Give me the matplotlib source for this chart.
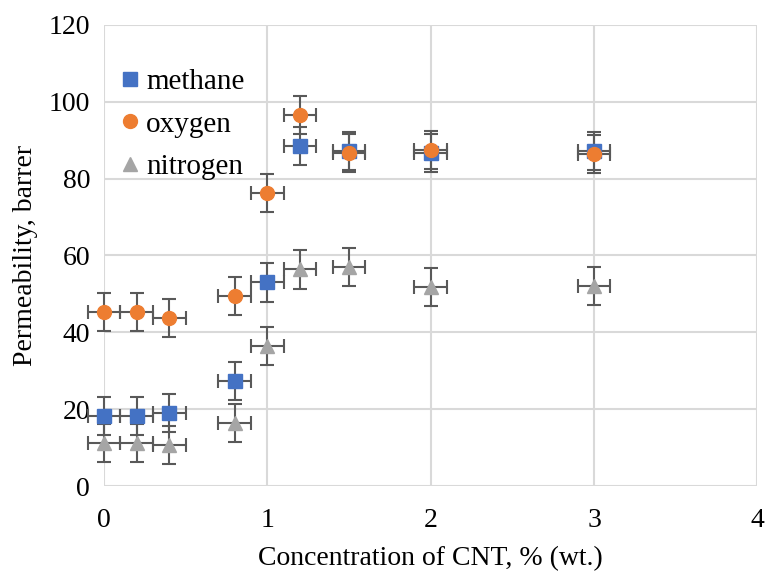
import matplotlib.pyplot as plt

plt.rcParams['font.family'] = 'Liberation Serif'

conc = [0, 0.2, 0.4, 0.8, 1.0, 1.2, 1.5, 2.0, 3.0]
methane = [18.2, 18.2, 19.0, 27.3, 53.0, 88.5, 87.2, 86.7, 87.2]
oxygen = [45.3, 45.3, 43.8, 49.5, 76.3, 96.6, 86.6, 87.4, 86.4]
nitrogen = [11.2, 11.2, 10.7, 16.4, 36.4, 56.4, 57.0, 51.8, 52.0]
x_err = 0.1
y_err = 5

series = [
    ('methane', methane, 's', '#4472C4'),
    ('oxygen', oxygen, 'o', '#ED7D31'),
    ('nitrogen', nitrogen, '^', '#A5A5A5'),
]

fig = plt.figure(figsize=(7.65, 5.76), dpi=100)
ax = fig.add_axes([0.136, 0.156, 0.854, 0.801])

for name, vals, mk, col in series:
    eb = ax.errorbar(conc, vals, xerr=x_err, yerr=y_err, fmt='none',
                     ecolor='#595959', elinewidth=1.5, capsize=5, capthick=1.5, zorder=2)
    for art in eb.lines[1] + eb.lines[2]:
        art.set_clip_on(False)
    ax.plot(conc, vals, linestyle='none', marker=mk, color=col,
            markersize=10, label=name, zorder=3, clip_on=False)

ax.set_xlim(0, 4)
ax.set_ylim(0, 120)
ax.set_xticks([0, 1, 2, 3, 4])
ax.set_yticks(range(0, 121, 20))
ax.grid(True, color='#D9D9D9', linewidth=1.5)
ax.set_axisbelow(True)
for s in ax.spines.values():
    s.set_visible(False)
ax.tick_params(length=0, labelsize=20)
ax.tick_params(axis='x', pad=16)
ax.tick_params(axis='y', pad=10)

ax.set_xlabel('Concentration of CNT, % (wt.)', fontsize=20, labelpad=9)
ax.set_ylabel('Permeability, barrer', fontsize=20, labelpad=8)

ax.legend(loc='upper left', bbox_to_anchor=(0.0, 0.93), frameon=False, fontsize=21,
          handlelength=1.0, handletextpad=0.05, labelspacing=0.55,
          markerscale=1.0, borderaxespad=0)

plt.savefig('out.png', dpi=100)
